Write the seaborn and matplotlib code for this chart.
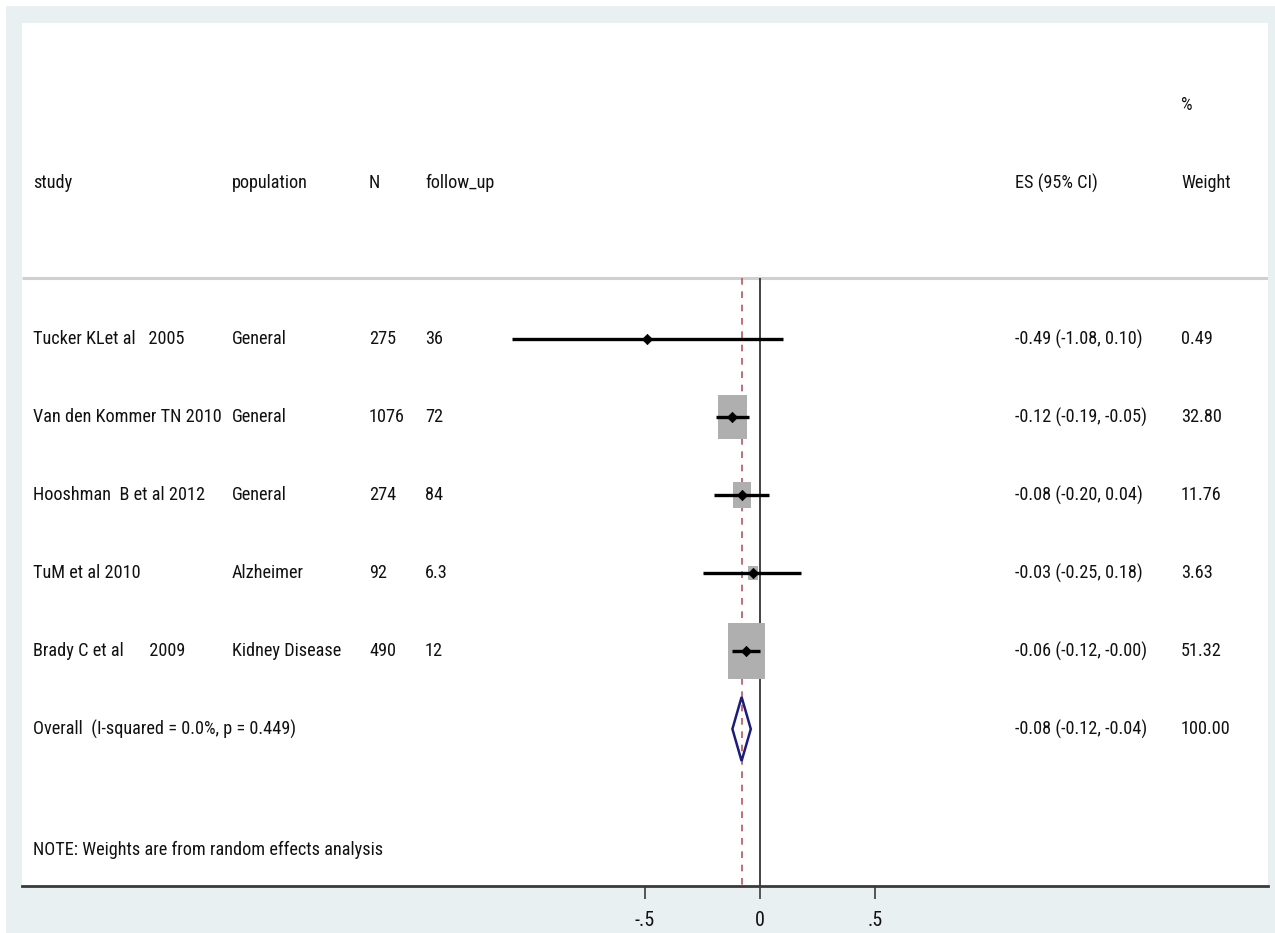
import numpy as np
import pandas as pd
import matplotlib
matplotlib.use("Agg")
import matplotlib.pyplot as plt
import seaborn as sns
from matplotlib.patches import Rectangle, Polygon
from matplotlib import font_manager

# ---- meta-analysis table ----
studies = ["Tucker KLet al   2005", "Van den Kommer TN 2010", "Hooshman  B et al 2012",
           "TuM et al 2010", "Brady C et al      2009"]
populations = ["General", "General", "General", "Alzheimer", "Kidney Disease"]
sample_n = ["275", "1076", "274", "92", "490"]
follow_up = ["36", "72", "84", "6.3", "12"]
es = [-0.49, -0.12, -0.08, -0.03, -0.06]
ci_low = [-1.08, -0.19, -0.20, -0.25, -0.12]
ci_high = [0.10, -0.05, 0.04, 0.18, -0.00]
weights = [0.49, 32.80, 11.76, 3.63, 51.32]

overall_es = -0.08
overall_low = -0.12
overall_high = -0.04
overall_weight = 100.00
overall_label = "Overall  (I-squared = 0.0%, p = 0.449)"
note_text = "NOTE: Weights are from random effects analysis"

x_ticks = [-0.5, 0, 0.5]
x_ticklabels = ["-.5", "0", ".5"]

df = pd.DataFrame({"study": studies, "population": populations, "N": sample_n,
                   "follow_up": follow_up, "es": es, "lo": ci_low, "hi": ci_high,
                   "weight": weights})
df["row"] = np.arange(len(df))
overall_row = len(df)

# ---- style: prefer a narrow sans face ----
sns.set_style("white")
names = {f.name for f in font_manager.fontManager.ttflist}
narrow = [n for n in ["Liberation Sans Narrow", "Arial Narrow", "Roboto Condensed",
                      "Open Sans Condensed", "DejaVu Sans Condensed", "Noto Sans Condensed"]
          if n in names]
narrow += sorted(n for n in names if ("Narrow" in n or "Condensed" in n) and n not in narrow
                 and "Serif" not in n and "Mono" not in n)
family = narrow[:1] + [f for f in ["Liberation Sans", "DejaVu Sans"] if f in names]
plt.rcParams["font.family"] = family
TXT = "#111111"

W, H = 1275, 933
fig = plt.figure(figsize=(W / 100, H / 100), dpi=100, facecolor="white")
fig.patches.append(Rectangle((6 / W, 0), 1 - 6 / W, 1 - 6 / H, transform=fig.transFigure,
                             facecolor="#E8F0F2", edgecolor="none", zorder=-10))

# size the type so the note line spans its column width
renderer = fig.canvas.get_renderer()
probe = fig.text(0, 0, note_text, fontsize=12)
FS = 12 * 350 / probe.get_window_extent(renderer).width
probe.remove()

# plot region (white panel)
left_px, right_px, top_px, bottom_px = 22, 1268, 23, 886
ax = fig.add_axes([left_px / W, (H - bottom_px) / H, (right_px - left_px) / W,
                   (bottom_px - top_px) / H])
ax.set_facecolor("white")

zero_px, unit_px = 760, 230          # horizontal scale
row0_px, row_px = 339, 78            # vertical spacing of rows
ax.set_xlim((left_px - zero_px) / unit_px, (right_px - zero_px) / unit_px)
ymax = (bottom_px - row0_px) / row_px
ymin = (top_px - row0_px) / row_px
ax.set_ylim(ymax, ymin)


def col(px):
    return (px - zero_px) / unit_px


# header
header_y = -2.0
sep_y = -0.78
for px, label in [(33, "study"), (232, "population"), (369, "N"), (425, "follow_up"),
                  (1015, "ES (95% CI)"), (1181, "Weight")]:
    ax.text(col(px), header_y, label, fontsize=FS, color=TXT, va="center", ha="left")
ax.text(col(1181), -3.0, "%", fontsize=FS, color=TXT, va="center", ha="left")
ax.plot([ax.get_xlim()[0], ax.get_xlim()[1]], [sep_y, sep_y], color="#D0D0D0", lw=2.2,
        solid_capstyle="butt", zorder=1)

# reference lines
ax.vlines(0, sep_y, ymax, color="#222222", lw=1.2, zorder=2)
ax.vlines(overall_es, sep_y, ymax, color="#B9545E", lw=1.2, linestyles=(0, (4, 4)), zorder=2)

# study rows
for _, r in df.iterrows():
    y = r["row"]
    ax.text(col(33), y, r["study"], fontsize=FS, color=TXT, va="center")
    ax.text(col(232), y, r["population"], fontsize=FS, color=TXT, va="center")
    ax.text(col(369), y, r["N"], fontsize=FS, color=TXT, va="center")
    ax.text(col(425), y, r["follow_up"], fontsize=FS, color=TXT, va="center")
    ax.text(col(1015), y, f"{r['es']:.2f} ({r['lo']:.2f}, {r['hi']:.2f})",
            fontsize=FS, color=TXT, va="center")
    ax.text(col(1181), y, f"{r['weight']:.2f}", fontsize=FS, color=TXT, va="center")
    # weight box, area proportional to study weight
    bw = 5.2 * np.sqrt(r["weight"]) / unit_px
    bh = 1.5 * 5.2 * np.sqrt(r["weight"]) / row_px
    ax.add_patch(Rectangle((r["es"] - bw / 2, y - bh / 2), bw, bh, facecolor="#AFAFAF",
                           edgecolor="none", zorder=3))

ax.hlines(df["row"], df["lo"], df["hi"], color="black", lw=2.4, zorder=4)
sns.scatterplot(data=df, x="es", y="row", marker="D", s=28, color="black",
                edgecolor="black", linewidth=0.5, ax=ax, zorder=5, legend=False)

# pooled estimate
ax.text(col(33), overall_row, overall_label, fontsize=FS, color=TXT, va="center")
ax.text(col(1015), overall_row, f"{overall_es:.2f} ({overall_low:.2f}, {overall_high:.2f})",
        fontsize=FS, color=TXT, va="center")
ax.text(col(1181), overall_row, f"{overall_weight:.2f}", fontsize=FS, color=TXT, va="center")
dh = 0.41
ax.add_patch(Polygon([(overall_low, overall_row), (overall_es, overall_row - dh),
                      (overall_high, overall_row), (overall_es, overall_row + dh)],
                     closed=True, facecolor="none", edgecolor="#1C1C7C", lw=1.8, zorder=5))

ax.text(col(33), 6.55, note_text, fontsize=FS, color=TXT, va="center")

# axis
for s in ["top", "left", "right"]:
    ax.spines[s].set_visible(False)
ax.spines["bottom"].set_color("#3a3a3a")
ax.spines["bottom"].set_linewidth(2.0)
ax.set_yticks([])
ax.set_xticks(x_ticks)
ax.set_xticklabels(x_ticklabels, fontsize=FS * 1.1, color=TXT)
ax.tick_params(axis="x", direction="out", length=9, width=1.2, color="#3a3a3a", pad=9,
               bottom=True)
ax.set_xlabel("")
ax.set_ylabel("")

fig.savefig("out.png", dpi=100, facecolor=fig.get_facecolor())
